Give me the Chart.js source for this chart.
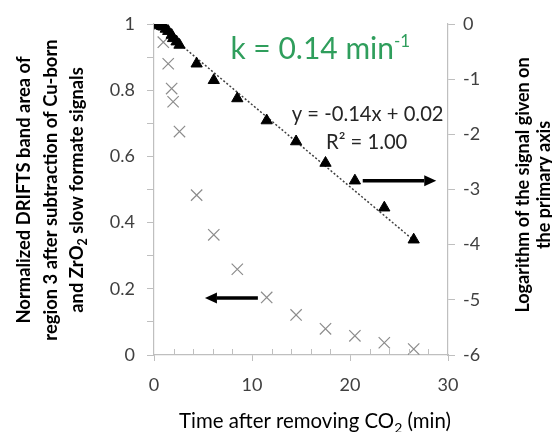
<!DOCTYPE html>
<html>
<head>
<meta charset="utf-8">
<script src="https://cdn.jsdelivr.net/npm/chart.js@4"></script>
<style>
  html, body { margin: 0; padding: 0; background: #fff; }
  #wrap { width: 552px; height: 432px; }
</style>
</head>
<body>
<div id="wrap"><canvas id="chart" width="552" height="432"></canvas></div>
<script>
// normalized signal (crosses, left axis)
const timeCross = [0.2, 0.6, 0.95, 1.45, 1.8, 1.95, 2.6, 4.35, 6.1, 8.5, 11.5, 14.5, 17.5, 20.5, 23.5, 26.5];
const signal = [1.0, 1.0, 0.945, 0.88, 0.805, 0.765, 0.675, 0.483, 0.363, 0.259, 0.174, 0.121, 0.079, 0.058, 0.037, 0.018];

// log of the signal (triangles, right axis)
const timeLog = [0.1, 0.2, 0.4, 0.6, 0.8, 0.95, 1.2, 1.45, 1.8, 1.95, 2.3, 2.6, 4.35, 6.1, 8.5, 11.5, 14.5, 17.5, 20.5, 23.5, 26.5];
const logSignal = [0, 0, -0.01, -0.02, -0.04, -0.05, -0.09, -0.13, -0.2, -0.26, -0.32, -0.38, -0.72, -1.02, -1.35, -1.75, -2.13, -2.52, -2.84, -3.33, -3.91];

// linear trendline end points
const trendX = [0.2, 26.5];
const trendY = [0.0, -3.92];

const xTicks = [0, 10, 20, 30];
const xMinor = [2, 4, 6, 8, 12, 14, 16, 18, 22, 24, 26, 28];
const rightTicks = [-6, -5, -4, -3, -2, -1, 0];

const fontFamily = 'Lato, "Open Sans", sans-serif';
const tickColor = '#404040';
const axisColor = '#bfbfbf';

function pts(xs, ys) {
    return xs.map((x, i) => ({ x: x, y: ys[i] }));
}

function arrow(ctx, x1, y1, x2, y2) {
    const dir = Math.sign(x2 - x1);
    const head = 12;
    ctx.save();
    ctx.strokeStyle = '#000';
    ctx.fillStyle = '#000';
    ctx.lineWidth = 3.5;
    ctx.beginPath();
    ctx.moveTo(x1, y1);
    ctx.lineTo(x2 - dir * head, y2);
    ctx.stroke();
    ctx.beginPath();
    ctx.moveTo(x2, y2);
    ctx.lineTo(x2 - dir * head, y2 - 5.5);
    ctx.lineTo(x2 - dir * head, y2 + 5.5);
    ctx.closePath();
    ctx.fill();
    ctx.restore();
}

// text with a sub/superscript part, drawn left to right
function richText(ctx, parts, x, y, align) {
    ctx.textAlign = 'left';
    let total = 0;
    parts.forEach(p => { ctx.font = p.font; total += ctx.measureText(p.text).width; });
    let cx = align === 'center' ? x - total / 2 : x;
    parts.forEach(p => {
        ctx.font = p.font;
        ctx.fillText(p.text, cx, y + (p.dy || 0));
        cx += ctx.measureText(p.text).width;
    });
}

const extras = {
    id: 'extras',
    afterDraw(chart) {
        const ctx = chart.ctx;
        const xs = chart.scales.x;
        const y = chart.scales.y;
        const y2 = chart.scales.y2;
        ctx.save();

        // minor x ticks point into the plot
        const bottom = chart.chartArea.bottom;
        ctx.strokeStyle = axisColor;
        ctx.lineWidth = 1;
        xMinor.forEach(v => {
            const px = Math.round(xs.getPixelForValue(v)) + 0.5;
            ctx.beginPath();
            ctx.moveTo(px, bottom);
            ctx.lineTo(px, bottom - 6);
            ctx.stroke();
        });

        ctx.textBaseline = 'alphabetic';
        ctx.fillStyle = '#000';

        // left axis title
        const bold = 'bold 18.4px ' + fontFamily;
        const leftLines = [
            [{ text: 'Normalized DRIFTS band area of', font: bold }],
            [{ text: 'region 3 after subtraction of Cu-born', font: bold }],
            [{ text: 'and ZrO', font: bold },
             { text: '2', font: 'bold 12.5px ' + fontFamily, dy: 4 },
             { text: ' slow formate signals', font: bold }]
        ];
        leftLines.forEach((line, i) => {
            ctx.save();
            ctx.translate(30 + i * 26.5, 190);
            ctx.rotate(-Math.PI / 2);
            richText(ctx, line, 0, 0, 'center');
            ctx.restore();
        });

        // right axis title
        ['Logarithm of the signal given on', 'the primary axis'].forEach((t, i) => {
            ctx.save();
            ctx.translate(529 + i * 20.5, 185);
            ctx.rotate(-Math.PI / 2);
            richText(ctx, [{ text: t, font: 'bold 18px ' + fontFamily }], 0, 0, 'center');
            ctx.restore();
        });

        // x axis title
        richText(ctx, [
            { text: 'Time after removing CO', font: '20.4px ' + fontFamily },
            { text: '2', font: '14px ' + fontFamily, dy: 5 },
            { text: ' (min)', font: '20.4px ' + fontFamily }
        ], 315, 428, 'center');

        // rate constant
        ctx.fillStyle = '#2f9e5c';
        richText(ctx, [
            { text: 'k = 0.14 min', font: '30px ' + fontFamily },
            { text: '-1', font: '17px ' + fontFamily, dy: -12 }
        ], xs.getPixelForValue(7.8), y.getPixelForValue(0.895), 'left');

        // trendline equation
        ctx.fillStyle = '#262626';
        const eqFont = '20.2px ' + fontFamily;
        richText(ctx, [{ text: 'y = -0.14x + 0.02', font: eqFont }], xs.getPixelForValue(21.8), y2.getPixelForValue(-1.76), 'center');
        richText(ctx, [{ text: 'R\u00b2 = 1.00', font: eqFont }], xs.getPixelForValue(21.7), y2.getPixelForValue(-2.27), 'center');

        // arrows pointing to the axes
        arrow(ctx, xs.getPixelForValue(21.3), y2.getPixelForValue(-2.84), xs.getPixelForValue(28.8), y2.getPixelForValue(-2.84));
        arrow(ctx, xs.getPixelForValue(10.6), y.getPixelForValue(0.172), xs.getPixelForValue(5.2), y.getPixelForValue(0.172));

        ctx.restore();
    }
};

new Chart(document.getElementById('chart'), {
    type: 'scatter',
    data: {
        datasets: [
            {
                label: 'trend',
                data: pts(trendX, trendY),
                yAxisID: 'y2',
                showLine: true,
                borderColor: '#404040',
                borderWidth: 1.5,
                borderDash: [2, 2],
                pointRadius: 0,
                order: 3
            },
            {
                label: 'signal',
                data: pts(timeCross, signal),
                yAxisID: 'y',
                pointStyle: 'crossRot',
                pointRadius: 8,
                borderColor: '#8c8c8c',
                borderWidth: 1.2,
                order: 2
            },
            {
                label: 'log',
                data: pts(timeLog, logSignal),
                yAxisID: 'y2',
                pointStyle: 'triangle',
                pointRadius: 6.5,
                backgroundColor: '#000',
                borderColor: '#000',
                borderWidth: 1,
                order: 1
            }
        ]
    },
    options: {
        responsive: false,
        animation: false,
        events: [],
        layout: { padding: { top: 24, left: 0, right: 0, bottom: 0 } },
        plugins: {
            legend: { display: false },
            tooltip: { enabled: false }
        },
        scales: {
            x: {
                type: 'linear',
                min: 0,
                max: 30,
                afterFit: s => { s.height = 77; },
                afterBuildTicks: s => { s.ticks = xTicks.map(v => ({ value: v })); },
                ticks: {
                    autoSkip: false,
                    maxRotation: 0,
                    color: tickColor,
                    font: { family: fontFamily, size: 18 },
                    padding: 13
                },
                grid: { drawOnChartArea: false, color: axisColor, tickLength: 6 },
                border: { color: axisColor, width: 1.2 }
            },
            y: {
                position: 'left',
                min: 0,
                max: 1,
                afterFit: s => { s.width = 154; },
                afterBuildTicks: s => {
                    const t = [];
                    for (let i = 0; i <= 10; i++) t.push({ value: i / 10 });
                    s.ticks = t;
                },
                ticks: {
                    autoSkip: false,
                    color: tickColor,
                    font: { family: fontFamily, size: 18 },
                    padding: 12,
                    callback: v => {
                        const r = Math.round(v * 10);
                        return r % 2 === 0 ? String(r / 10) : '';
                    }
                },
                grid: { drawOnChartArea: false, color: axisColor, tickLength: 7 },
                border: { color: axisColor, width: 1.2 }
            },
            y2: {
                position: 'right',
                min: -6,
                max: 0,
                afterFit: s => { s.width = 104; },
                afterBuildTicks: s => { s.ticks = rightTicks.map(v => ({ value: v })); },
                ticks: {
                    autoSkip: false,
                    color: tickColor,
                    font: { family: fontFamily, size: 18 },
                    padding: 8
                },
                grid: { drawOnChartArea: false, color: axisColor, tickLength: 7 },
                border: { color: axisColor, width: 1.2 }
            }
        }
    },
    plugins: [extras]
});
</script>
</body>
</html>
